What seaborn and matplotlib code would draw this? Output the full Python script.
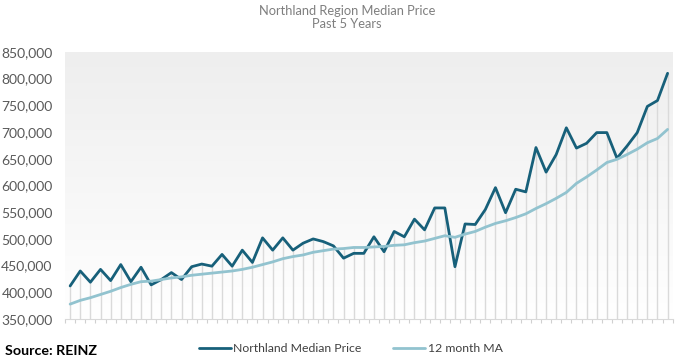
import numpy as np
import pandas as pd
import seaborn as sns
import matplotlib.pyplot as plt
from matplotlib.colors import LinearSegmentedColormap
from matplotlib.ticker import FuncFormatter

# monthly values (thousands of dollars), 60 months
median_k = [412, 440, 419, 443, 422, 452, 420, 447, 414, 424,
            437, 424, 448, 453, 449, 471, 449, 479, 456, 502,
            479, 502, 479, 492, 500, 495, 487, 464, 473, 473,
            504, 476, 514, 504, 537, 517, 558, 558, 448, 528,
            527, 555, 596, 549, 593, 588, 671, 625, 658, 708,
            670, 679, 699, 699, 651, 674, 699, 748, 759, 810]
ma_k = [378, 385, 390, 396, 402, 409, 415, 420, 421, 424,
        427, 429, 432, 434, 436, 438, 440, 443, 447, 452,
        457, 463, 467, 470, 475, 478, 481, 482, 484, 484,
        485, 486, 488, 489, 493, 496, 501, 506, 503, 509,
        514, 522, 529, 534, 540, 547, 557, 566, 576, 587,
        604, 616, 629, 643, 649, 658, 668, 680, 688, 705]
series_names = ['Northland Median Price', '12 month MA']
y_ticks = list(range(350000, 850001, 50000))

months = np.arange(len(median_k))
df = pd.DataFrame({
    'month': np.concatenate([months, months]),
    'price': np.array(median_k + ma_k) * 1000,
    'series': [series_names[0]] * len(median_k) + [series_names[1]] * len(ma_k),
})

sns.set_style('white')
plt.rcParams['font.family'] = ['Lato', 'DejaVu Sans']

fig = plt.figure(figsize=(6.85, 3.63), dpi=100)
ax = fig.add_axes([0.095, 0.121, 0.887, 0.736])

# soft grey-to-white gradient behind the plot
grad = np.linspace(1, 0, 256).reshape(-1, 1)
cmap = LinearSegmentedColormap.from_list('bg', ['#ffffff', '#eeeeee'])
ax.imshow(grad, extent=[0, 1, 0, 1], transform=ax.transAxes, aspect='auto',
          cmap=cmap, zorder=0)

# drop lines from the higher point down to the axis
tops = np.maximum(median_k, ma_k) * 1000
ax.vlines(months, 350000, tops, color='#dadada', linewidth=1, zorder=1)

sns.lineplot(data=df, x='month', y='price', hue='series', ax=ax,
             palette=['#17607a', '#92c3cf'], linewidth=2, legend=False, zorder=3)

ax.set_xlim(-0.5, len(months) - 0.5)
ax.set_ylim(350000, 850000)
ax.set_yticks(y_ticks)
ax.yaxis.set_major_formatter(FuncFormatter(lambda v, p: f'{int(v):,}'))
ax.set_xticks(np.arange(-0.5, len(months), 1))
ax.set_xticklabels([])
ax.tick_params(axis='x', length=3, color='#d0d0d0', direction='out', bottom=True)
ax.tick_params(axis='y', length=0, pad=9, labelsize=10, labelcolor='#595959')
ax.set_xlabel('')
ax.set_ylabel('')
for s in ['top', 'right', 'left']:
    ax.spines[s].set_visible(False)
ax.spines['bottom'].set_color('#d9d9d9')

fig.text(0.507, 0.985, 'Northland Region Median Price\nPast 5 Years', ha='center',
         va='top', fontsize=9.3, color='#7f7f7f', linespacing=1.1)

handles = [plt.Line2D([], [], color='#17607a', lw=2),
           plt.Line2D([], [], color='#92c3cf', lw=2)]
fig.legend(handles, series_names, loc='center', bbox_to_anchor=(0.512, 0.04), ncol=2,
           frameon=False, fontsize=8.8, handlelength=2.6, handletextpad=0.2,
           columnspacing=2.6, labelcolor='#404040')
fig.text(0.008, 0.033, 'Source: REINZ', fontsize=10.3, fontweight='bold',
         color='#000000', va='center')

fig.savefig('out.png', dpi=100)
